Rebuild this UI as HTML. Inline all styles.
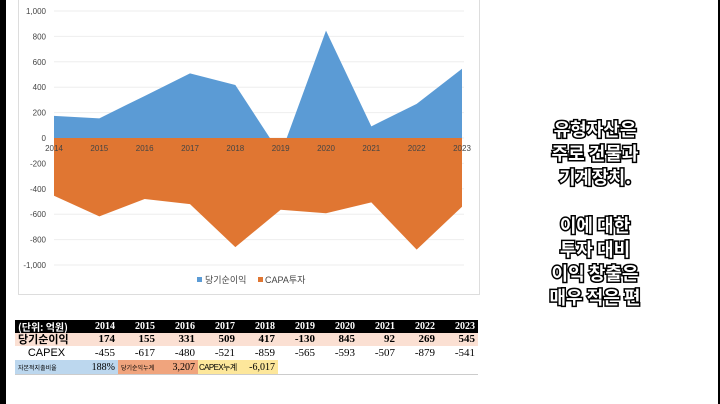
<!DOCTYPE html>
<html><head><meta charset="utf-8"><style>
body{margin:0;width:720px;height:404px;background:#fff;position:relative;overflow:hidden;font-family:"Liberation Sans","Noto Sans CJK KR",sans-serif}
.side{position:absolute;left:0;top:0;width:6px;height:404px;background:#000}
.rside{position:absolute;right:0;top:0;width:2px;height:404px;background:#000}
.frame{position:absolute;left:18px;top:-2px;width:460px;height:295px;border:1px solid #ddd}
.msg{position:absolute;left:500px;width:190px;text-align:center;font-family:"Noto Sans CJK KR",sans-serif;font-weight:700;font-size:18px;line-height:24px;color:#fff;-webkit-text-stroke:3px #000;paint-order:stroke fill}
table{position:absolute;left:15px;top:320px;width:463px;table-layout:fixed;border-collapse:collapse;font-family:"Liberation Serif","Noto Sans CJK KR",serif;font-size:10px;white-space:nowrap}
td{height:13px;padding:0 3px;text-align:right;line-height:13px;overflow:hidden}
</style></head><body>
<div class="side"></div>
<div class="rside"></div>
<div class="frame"></div>
<svg id="chart" width="480" height="300" style="position:absolute;left:0;top:0"></svg>
<div class="msg" style="top:117px">유형자산은<br>주로 건물과<br>기계장치.</div>
<div class="msg" style="top:213px">이에 대한<br>투자 대비<br>이익 창출은<br>매우 적은 편</div>
<table>
<colgroup><col style="width:63px"><col span="10" style="width:40px"></colgroup>
<tr style="background:#000;color:#fff;font-weight:bold"><td style="text-align:left;font-family:'Noto Sans CJK KR',sans-serif;font-size:10px">(단위: 억원)</td><td>2014</td><td>2015</td><td>2016</td><td>2017</td><td>2018</td><td>2019</td><td>2020</td><td>2021</td><td>2022</td><td>2023</td></tr>
<tr style="background:#fbe0d3;font-weight:bold;font-size:11px"><td style="text-align:left;font-family:'Noto Sans CJK KR',sans-serif">당기순이익</td><td>174</td><td>155</td><td>331</td><td>509</td><td>417</td><td>-130</td><td>845</td><td>92</td><td>269</td><td>545</td></tr>
<tr style="font-size:11px"><td style="text-align:center;font-family:'Liberation Sans',sans-serif;height:14px">CAPEX</td><td>-455</td><td>-617</td><td>-480</td><td>-521</td><td>-859</td><td>-565</td><td>-593</td><td>-507</td><td>-879</td><td>-541</td></tr>
<tr style="border-bottom:1px solid #ccc"><td style="background:#bcd7ee;font-size:6px;text-align:left;font-family:'Noto Sans CJK KR',sans-serif;height:14px">자본적지출비율</td><td style="background:#bcd7ee">188%</td><td style="background:#f0a47d;font-size:6px;text-align:left;font-family:'Noto Sans CJK KR',sans-serif">당기순익누계</td><td style="background:#f0a47d">3,207</td><td style="background:#fde79b;text-align:left;font-family:'Liberation Sans','Noto Sans CJK KR',sans-serif;font-size:8px;letter-spacing:-0.6px;padding:0 0 0 1px">CAPEX누계</td><td style="background:#fde79b">-6,017</td><td colspan="5"></td></tr>
</table>
<script>
const years=["2014","2015","2016","2017","2018","2019","2020","2021","2022","2023"];
const profit=[174,155,331,509,417,-130,845,92,269,545];
const capex=[-455,-617,-480,-521,-859,-565,-593,-507,-879,-541];
const yTicks=[1000,800,600,400,200,0,-200,-400,-600,-800,-1000];
const yLabels=["1,000","800","600","400","200","0","-200","-400","-600","-800","-1,000"];
const NS="http://www.w3.org/2000/svg",svg=document.getElementById('chart');
const x0=54,x1=462,y=v=>138-v*0.127,x=i=>x0+i*(x1-x0)/(years.length-1);
function mk(t,a){const e=document.createElementNS(NS,t);for(const k in a)e.setAttribute(k,a[k]);svg.appendChild(e);return e;}
yTicks.forEach((v,i)=>{
 const g=mk('line',{x1:x0,x2:x1+2,y1:y(v),y2:y(v),stroke:'#eee'});
 
 
 const t=mk('text',{x:46,y:y(v)+3,'text-anchor':'end','font-size':8,fill:'#444'});t.textContent=yLabels[i];
 
 
});
function area(vals,col,name){
 let d='M'+x(0)+','+y(0);vals.forEach((v,i)=>d+=' L'+x(i)+','+y(v));d+=' L'+x(vals.length-1)+','+y(0)+'Z';
 const p=mk('path',{d:d,fill:col});
 
 
}
area(profit,'#5b9bd5','profit-area');
area(capex,'#e07632','capex-area');
years.forEach((yr,i)=>{
 const t=mk('text',{x:x(i),y:151,'text-anchor':'middle','font-size':8,fill:'#444'});t.textContent=yr;
 
 
});
const l1=mk('rect',{x:197,y:277,width:5,height:5,fill:'#5b9bd5'});


const lt1=mk('text',{x:205,y:283,'font-size':9,fill:'#444'});lt1.textContent='당기순이익';


const l2=mk('rect',{x:258,y:277,width:5,height:5,fill:'#e07632'});


const lt2=mk('text',{x:265,y:283,'font-size':9,fill:'#444'});lt2.textContent='CAPA투자';


</script>
</body></html>
